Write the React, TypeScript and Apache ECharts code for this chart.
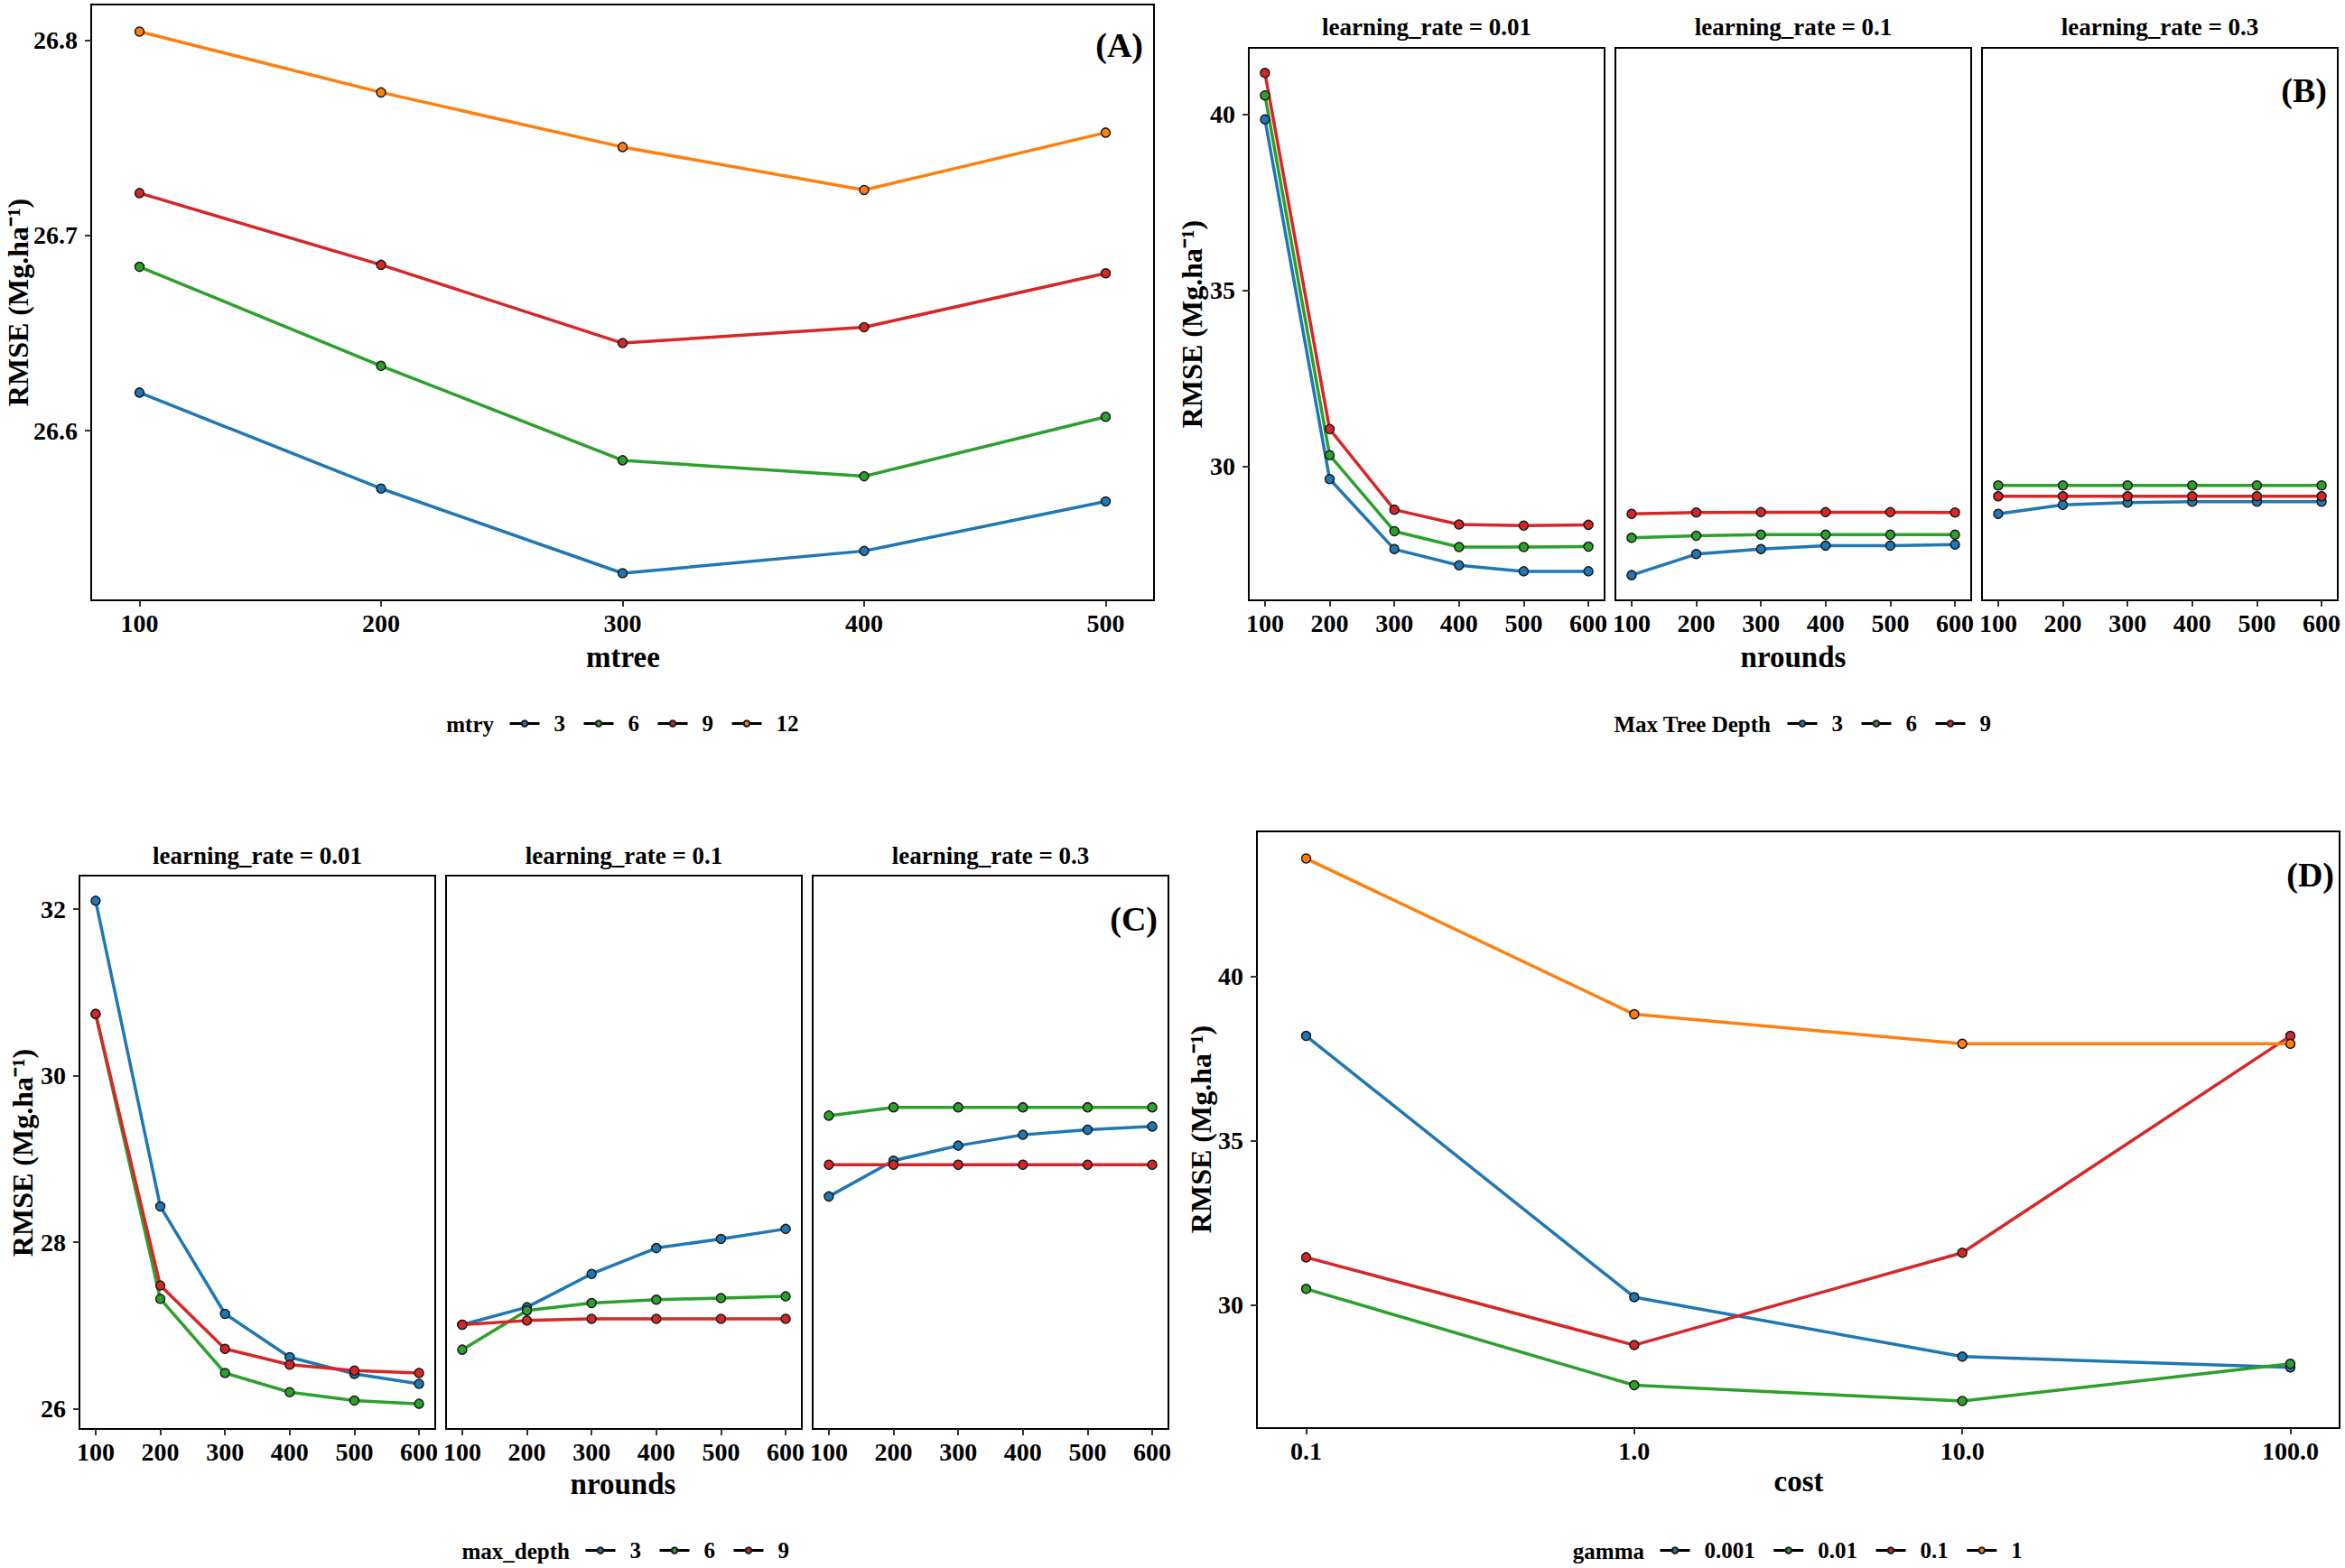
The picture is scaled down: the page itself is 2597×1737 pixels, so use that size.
import React, { useEffect, useRef } from 'react';
import * as echarts from 'echarts';

// ---------- data ----------
const BLUE = '#1f77b4';
const GREEN = '#2ca02c';
const RED = '#d62728';
const ORANGE = '#ff7f0e';

// Panel A: random forest
const mtreeValues = [100, 200, 300, 400, 500];
const mtryLevels = ['3', '6', '9', '12'];
const rfMtry3 = [26.6195, 26.5703, 26.5269, 26.5383, 26.5637];
const rfMtry6 = [26.684, 26.6332, 26.5848, 26.5766, 26.6071];
const rfMtry9 = [26.7218, 26.685, 26.6449, 26.653, 26.6807];
const rfMtry12 = [26.8046, 26.7734, 26.7454, 26.7234, 26.7528];
const aYTicks = [26.6, 26.7, 26.8];

// Panels B and C: boosting
const nroundsValues = [100, 200, 300, 400, 500, 600];
const learningRates = ['0.01', '0.1', '0.3'];
const depthLevels = ['3', '6', '9'];

const bLr001Depth3 = [39.85, 29.63, 27.64, 27.18, 27.01, 27.01];
const bLr001Depth6 = [40.53, 30.31, 28.15, 27.7, 27.7, 27.71];
const bLr001Depth9 = [41.17, 31.05, 28.76, 28.34, 28.31, 28.33];
const bLr01Depth3 = [26.9, 27.5, 27.64, 27.74, 27.74, 27.77];
const bLr01Depth6 = [27.96, 28.02, 28.05, 28.05, 28.05, 28.05];
const bLr01Depth9 = [28.64, 28.68, 28.69, 28.69, 28.69, 28.68];
const bLr03Depth3 = [28.64, 28.9, 28.96, 28.99, 28.99, 28.99];
const bLr03Depth6 = [29.45, 29.45, 29.45, 29.45, 29.45, 29.45];
const bLr03Depth9 = [29.14, 29.14, 29.14, 29.14, 29.14, 29.14];
const bYTicks = [30, 35, 40];

const cLr001Depth3 = [32.1, 28.43, 27.14, 26.62, 26.42, 26.3];
const cLr001Depth6 = [30.74, 27.32, 26.43, 26.2, 26.1, 26.06];
const cLr001Depth9 = [30.74, 27.48, 26.72, 26.53, 26.46, 26.43];
const cLr01Depth3 = [27.01, 27.22, 27.62, 27.93, 28.04, 28.16];
const cLr01Depth6 = [26.71, 27.18, 27.27, 27.31, 27.33, 27.35];
const cLr01Depth9 = [27.01, 27.06, 27.08, 27.08, 27.08, 27.08];
const cLr03Depth3 = [28.55, 28.98, 29.16, 29.29, 29.35, 29.39];
const cLr03Depth6 = [29.52, 29.62, 29.62, 29.62, 29.62, 29.62];
const cLr03Depth9 = [28.93, 28.93, 28.93, 28.93, 28.93, 28.93];
const cYTicks = [26, 28, 30, 32];

// Panel D: SVM
const costValues = [0.1, 1, 10, 100];
const gammaLevels = ['0.001', '0.01', '0.1', '1'];
const svmGamma0001 = [38.18, 30.23, 28.42, 28.09];
const svmGamma001 = [30.48, 27.55, 27.07, 28.2];
const svmGamma01 = [31.44, 28.77, 31.58, 38.18];
const svmGamma1 = [43.58, 38.84, 37.94, 37.94];
const dYTicks = [30, 35, 40];

// ---------- styling ----------
const FONT = '"Liberation Serif", "Times New Roman", serif';
const levelColors = [BLUE, GREEN, RED, ORANGE];

const expand = (arrs: number[][], f = 0.05) => {
  const all = arrs.flat();
  const mn = Math.min(...all);
  const mx = Math.max(...all);
  const r = mx - mn;
  return [mn - f * r, mx + f * r];
};

const labelStyle = {
  color: '#000',
  fontSize: 28,
  fontWeight: 'bold',
  fontFamily: FONT,
};

const tickStyle = { show: true, length: 7, lineStyle: { color: '#333', width: 2 } };

function xValueAxis(gridIndex: number, min: number, max: number, ticks: number[]) {
  return {
    type: 'value',
    gridIndex,
    min,
    max,
    axisLine: { show: false },
    splitLine: { show: false },
    axisTick: { ...tickStyle, customValues: ticks },
    axisLabel: { ...labelStyle, margin: 11, customValues: ticks },
  };
}

function yValueAxis(gridIndex: number, min: number, max: number, ticks: number[], show: boolean, fmt?: (v: number) => string) {
  return {
    type: 'value',
    gridIndex,
    min,
    max,
    axisLine: { show: false },
    splitLine: { show: false },
    axisTick: show ? { ...tickStyle, customValues: ticks } : { show: false },
    axisLabel: show
      ? { ...labelStyle, margin: 15, customValues: ticks, formatter: fmt }
      : { show: false },
  };
}

function lineSeries(name: string, color: string, xs: number[], ys: number[], idx: number) {
  return {
    type: 'line',
    name,
    xAxisIndex: idx,
    yAxisIndex: idx,
    data: xs.map((x, i) => [x, ys[i]]),
    symbol: 'circle',
    symbolSize: 10,
    showSymbol: true,
    lineStyle: { color, width: 3.5 },
    itemStyle: { color, borderColor: '#1a1a1a', borderWidth: 1.5 },
    emphasis: { disabled: true },
    silent: true,
  };
}

function gridBox(left: number, top: number, width: number, height: number) {
  return { left, top, width, height, show: true, borderColor: '#000', borderWidth: 2, backgroundColor: '#fff', containLabel: false };
}

function txt(text: string, x: number, y: number, size: number, opts: any = {}) {
  return {
    type: 'text',
    x,
    y,
    rotation: opts.rotation || 0,
    silent: true,
    style: {
      text,
      fill: '#000',
      fontSize: size,
      fontWeight: 'bold',
      fontFamily: FONT,
      align: opts.align || 'center',
      verticalAlign: 'middle',
    },
  };
}

function legendComp(data: string[], left: number, cy: number) {
  return {
    data,
    left,
    top: cy - 13,
    orient: 'horizontal',
    padding: 0,
    itemWidth: 33,
    itemHeight: 8,
    itemGap: 19,
    selectedMode: false,
    textStyle: { color: '#000', fontSize: 25, fontWeight: 'bold', fontFamily: FONT, padding: [0, 0, 0, 11] },
    lineStyle: { color: '#000', width: 3 },
  };
}

export default function App() {
  const ref = useRef<HTMLDivElement>(null);

  useEffect(() => {
    if (!ref.current) return;
    const chart = echarts.init(ref.current, undefined, { renderer: 'svg' });

    const aRange = expand([rfMtry3, rfMtry6, rfMtry9, rfMtry12]);
    const bSets = [
      [bLr001Depth3, bLr001Depth6, bLr001Depth9],
      [bLr01Depth3, bLr01Depth6, bLr01Depth9],
      [bLr03Depth3, bLr03Depth6, bLr03Depth9],
    ];
    const cSets = [
      [cLr001Depth3, cLr001Depth6, cLr001Depth9],
      [cLr01Depth3, cLr01Depth6, cLr01Depth9],
      [cLr03Depth3, cLr03Depth6, cLr03Depth9],
    ];
    const bRange = expand(bSets.flat());
    const cRange = expand(cSets.flat());
    const dSets = [svmGamma0001, svmGamma001, svmGamma01, svmGamma1];
    const dRange = expand(dSets);
    const facetX = [75, 625];

    const bLefts = [1383, 1789, 2195];
    const cLefts = [88, 494, 900];
    const facetW = 394;

    const grids: any[] = [gridBox(101, 5, 1177, 660)];
    bLefts.forEach((l) => grids.push(gridBox(l, 53, facetW, 612)));
    cLefts.forEach((l) => grids.push(gridBox(l, 970, facetW, 613)));
    grids.push(gridBox(1392, 921, 1199, 661));

    const xAxes: any[] = [xValueAxis(0, 80, 520, mtreeValues)];
    const yAxes: any[] = [yValueAxis(0, aRange[0], aRange[1], aYTicks, true, (v: number) => v.toFixed(1))];
    for (let f = 0; f < 3; f++) {
      xAxes.push(xValueAxis(1 + f, facetX[0], facetX[1], nroundsValues));
      yAxes.push(yValueAxis(1 + f, bRange[0], bRange[1], bYTicks, f === 0));
    }
    for (let f = 0; f < 3; f++) {
      xAxes.push(xValueAxis(4 + f, facetX[0], facetX[1], nroundsValues));
      yAxes.push(yValueAxis(4 + f, cRange[0], cRange[1], cYTicks, f === 0));
    }
    xAxes.push({
      type: 'log',
      logBase: 10,
      gridIndex: 7,
      min: Math.pow(10, -1.15),
      max: Math.pow(10, 2.15),
      axisLine: { show: false },
      splitLine: { show: false },
      minorTick: { show: false },
      axisTick: { ...tickStyle, customValues: costValues },
      axisLabel: { ...labelStyle, margin: 11, customValues: costValues, formatter: (v: number) => Number(v).toFixed(1) },
    });
    yAxes.push(yValueAxis(7, dRange[0], dRange[1], dYTicks, true));

    const series: any[] = [];
    [rfMtry3, rfMtry6, rfMtry9, rfMtry12].forEach((ys, i) =>
      series.push(lineSeries(mtryLevels[i], levelColors[i], mtreeValues, ys, 0))
    );
    bSets.forEach((set, f) =>
      set.forEach((ys, i) => series.push(lineSeries(depthLevels[i], levelColors[i], nroundsValues, ys, 1 + f)))
    );
    cSets.forEach((set, f) =>
      set.forEach((ys, i) => series.push(lineSeries(depthLevels[i], levelColors[i], nroundsValues, ys, 4 + f)))
    );
    dSets.forEach((ys, i) => series.push(lineSeries(gammaLevels[i], levelColors[i], costValues, ys, 7)));

    const yTitle = 'RMSE (Mg.ha\u207B\u00B9)';
    const graphics: any[] = [
      // axis titles
      txt(yTitle, 20, 335, 32, { rotation: Math.PI / 2 }),
      txt('mtree', 690, 728, 33),
      txt(yTitle, 1320, 359, 32, { rotation: Math.PI / 2 }),
      txt('nrounds', 1986, 728, 33),
      txt(yTitle, 25, 1277, 32, { rotation: Math.PI / 2 }),
      txt('nrounds', 690, 1644, 33),
      txt(yTitle, 1330, 1251, 32, { rotation: Math.PI / 2 }),
      txt('cost', 1992, 1641, 33),
      // panel tags
      txt('(A)', 1266, 50, 38, { align: 'right' }),
      txt('(B)', 2577, 100, 38, { align: 'right' }),
      txt('(C)', 1282, 1018, 38, { align: 'right' }),
      txt('(D)', 2585, 969, 38, { align: 'right' }),
      // legend titles
      txt('mtry', 547, 802, 25, { align: 'right' }),
      txt('Max Tree Depth', 1961, 802, 25, { align: 'right' }),
      txt('max_depth', 631, 1718, 25, { align: 'right' }),
      txt('gamma', 1821, 1718, 25, { align: 'right' }),
    ];
    learningRates.forEach((lr, f) => {
      graphics.push(txt('learning_rate = ' + lr, bLefts[f] + facetW / 2, 30, 27));
      graphics.push(txt('learning_rate = ' + lr, cLefts[f] + facetW / 2, 948, 27));
    });

    chart.setOption({
      animation: false,
      backgroundColor: '#fff',
      grid: grids,
      xAxis: xAxes,
      yAxis: yAxes,
      series,
      legend: [
        legendComp(mtryLevels, 563, 802),
        legendComp(depthLevels, 1978, 802),
        legendComp(depthLevels, 647, 1718),
        legendComp(gammaLevels, 1837, 1718),
      ],
      graphic: graphics,
    });

    return () => chart.dispose();
  }, []);

  return (
    <div
      ref={ref}
      style={{ position: 'absolute', left: 0, top: 0, width: 2597, height: 1737, background: '#fff' }}
    />
  );
}
